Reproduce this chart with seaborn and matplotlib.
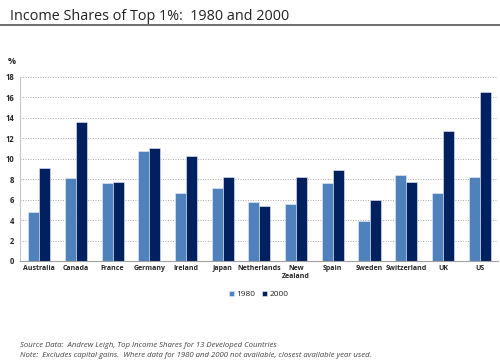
import matplotlib
matplotlib.use("Agg")
import matplotlib.pyplot as plt
import seaborn as sns
import pandas as pd

countries = ["Australia", "Canada", "France", "Germany", "Ireland", "Japan",
             "Netherlands", "New\nZealand", "Spain", "Sweden", "Switzerland", "UK", "US"]
share_1980 = [4.75, 8.07, 7.61, 10.76, 6.63, 7.09, 5.79, 5.59, 7.58, 3.90, 8.36, 6.63, 8.16]
share_2000 = [9.04, 13.56, 7.71, 11.09, 10.28, 8.16, 5.33, 8.20, 8.88, 5.95, 7.74, 12.68, 16.49]
years = ["1980", "2000"]
yticks = list(range(0, 19, 2))

df = pd.DataFrame({
    "country": countries * 2,
    "share": share_1980 + share_2000,
    "year": [years[0]] * len(countries) + [years[1]] * len(countries),
})

sns.set_style("white")
plt.rcParams["font.family"] = ["Open Sans", "DejaVu Sans"]

fig = plt.figure(figsize=(5, 3.64), dpi=100)
ax = fig.add_axes([0.04, 0.283, 0.956, 0.506])

sns.barplot(data=df, x="country", y="share", hue="year", order=countries,
            hue_order=years, palette=["#4F81BD", "#002060"], saturation=1, width=0.6,
            edgecolor="#e8eef7", linewidth=0.4, ax=ax, legend=True)

ax.set_ylim(0, 18)
ax.set_xlim(-0.52, 12.5)
ax.set_yticks(yticks)
ax.set_yticklabels([str(t) for t in yticks], fontsize=5.5, fontweight="bold")
ax.tick_params(axis="x", labelsize=5, length=0, pad=3)
ax.tick_params(axis="y", length=0, pad=4)
for lbl in ax.get_xticklabels():
    lbl.set_fontweight("bold")
ax.set_xlabel("")
ax.set_ylabel("")
ax.yaxis.grid(True, linestyle=(0, (1.2, 1.8)), color="#a0a0a0", linewidth=0.6)
ax.set_axisbelow(True)
for s in ["top", "right"]:
    ax.spines[s].set_visible(False)
ax.spines["left"].set_color("#c8c8c8")
ax.spines["left"].set_linewidth(0.8)
ax.spines["bottom"].set_color("#a0a0a0")
ax.spines["bottom"].set_linewidth(0.8)

leg = ax.legend(loc="upper center", bbox_to_anchor=(0.5, -0.12), ncol=2, frameon=False,
                fontsize=6, handlelength=0.6, handleheight=0.6, handletextpad=0.3,
                columnspacing=0.8)

fig.text(0.016, 0.818, "%", fontsize=6.5, fontweight="bold", va="bottom")
fig.text(0.02, 0.975, "Income Shares of Top 1%:  1980 and 2000", fontsize=10.4, va="top",
         color="#222222")
fig.add_artist(plt.Line2D([0, 1], [0.932, 0.932], color="#555555", linewidth=1.2,
                          transform=fig.transFigure))
fig.text(0.04, 0.050, "Source Data:  Andrew Leigh, Top Income Shares for 13 Developed Countries",
         fontsize=5.6, style="italic", color="#444444", va="center")
fig.text(0.04, 0.022, "Note:  Excludes capital gains.  Where data for 1980 and 2000 not available, closest available year used.",
         fontsize=5.6, style="italic", color="#444444", va="center")

fig.savefig("out.png", dpi=100)
